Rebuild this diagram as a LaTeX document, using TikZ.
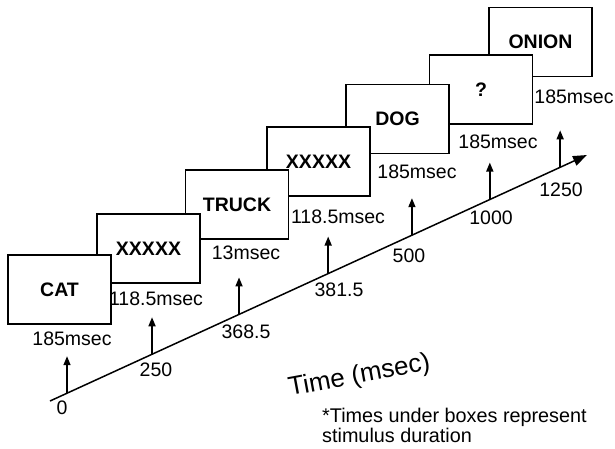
\documentclass[tikz,border=0pt]{standalone}
\usepackage{fontspec}
\setmainfont{Liberation Sans}
\usetikzlibrary{arrows.meta,calc}

\begin{document}
\begin{tikzpicture}[x=1pt,y=-1pt,
  screen/.style={draw,fill=white,line width=1.6pt,minimum width=103pt,minimum height=69pt,inner sep=0pt,font=\fontsize{19.5}{20}\selectfont\bfseries},
  dur/.style={inner sep=0pt,font=\fontsize{19.5}{20}\selectfont},
  tick/.style={line width=1.5pt,-{Triangle[length=9pt,width=7pt]}},
  timeline/.style={line width=1.5pt,-{Triangle[length=14pt,width=10pt]}}]
\useasboundingbox (0,0) rectangle (615,448);

\coordinate (start) at (50,401);
\coordinate (end) at (587,155);
\draw[timeline] (start) -- (end);

\foreach \n/\lab/\p/\lx/\ly in {1/0/.0317/62/408, 2/250/.19/156/370, 3/368.5/.352/246/332, 4/381.5/.518/339/290, 5/500/.674/409/256, 6/1000/.819/491/218, 7/1250/.95/561/190}{
  \path (start) -- (end) coordinate[pos=\p] (base\n);
  \coordinate (head\n) at ($(base\n)+(0,-37)$);
  \draw[tick] (base\n) -- (head\n);
  \node[dur] (tl\n) at (\lx,\ly) {\lab};
}

% later screens lie under earlier ones
\foreach \name/\x/\y/\word in {onion/540.5/42/ONION, query/481/89.5/?, dog/397.5/119/DOG, mask2/318.5/161.5/XXXXX, truck/237/204.5/TRUCK, mask1/148.5/248.5/XXXXX, cat/59.5/289.5/CAT}
  \node[screen] (\name) at (\x,\y) {\word};

\foreach \n/\x/\y/\lab in {1/72/339/185msec, 2/156/299/118.5msec, 3/246/253/13msec, 4/338/217/118.5msec, 5/417/172/185msec, 6/498/142/185msec, 7/574/97/185msec}
  \node[dur] (dur\n) at (\x,\y) {\lab};

\node[font=\fontsize{26}{26}\selectfont,rotate=10.5,anchor=base west,inner sep=0pt] (timelab) at (290,396) {Time (msec)};
\node[font=\fontsize{19.8}{20}\selectfont,inner sep=0pt,anchor=north west,align=left] (note) at (322,408) {*Times under boxes represent\\stimulus duration};
\end{tikzpicture}
\end{document}
